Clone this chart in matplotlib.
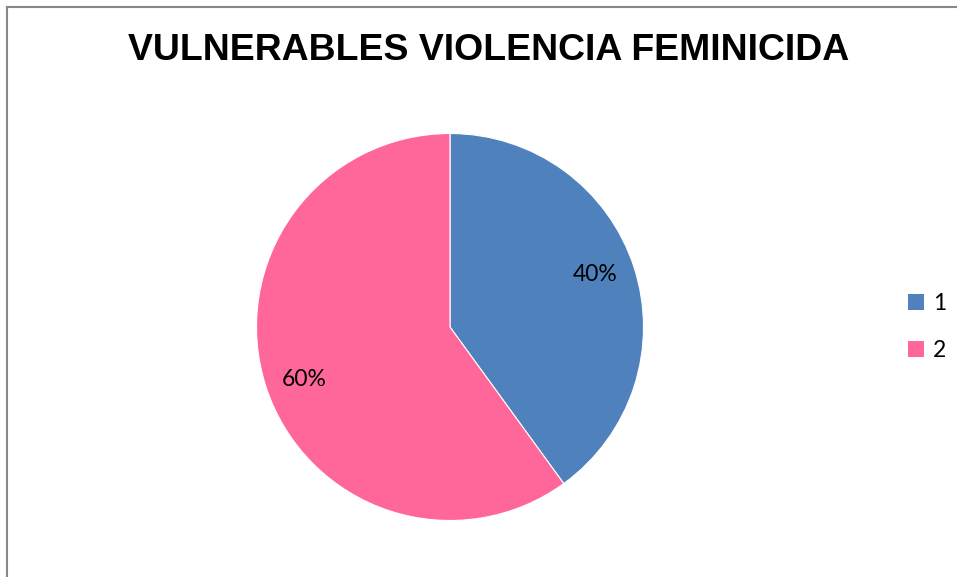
import matplotlib
matplotlib.use("Agg")
import matplotlib.pyplot as plt
from matplotlib.lines import Line2D
from matplotlib.patches import Patch

title = "VULNERABLES VIOLENCIA FEMINICIDA"
categories = ["1", "2"]
values = [40, 60]
colors = ["#4F81BD", "#FF6699"]

W, H = 957, 577
fig = plt.figure(figsize=(W / 100, H / 100), dpi=100)
fig.patch.set_facecolor("white")

cx, cy, r = 450, 327, 193.5
ax = fig.add_axes([(cx - r) / W, (H - cy - r) / H, 2 * r / W, 2 * r / H])
wedges, texts, autotexts = ax.pie(
    values, colors=colors, startangle=92, counterclock=False,
    autopct=lambda p: f"{p:.0f}%", pctdistance=0.8,
    wedgeprops=dict(edgecolor="white", linewidth=0.8),
    textprops=dict(fontsize=16.5, family="Lato", color="black"))
# keep the wedges at Excel's 12 o'clock start, labels slightly rotated as in the original
for w in wedges:
    w.set_theta1(w.theta1 - 2)
    w.set_theta2(w.theta2 - 2)
ax.set_xlim(-1, 1)
ax.set_ylim(-1, 1)
ax.set_aspect("equal")
ax.axis("off")

fig.text(489 / W, 1 - 50 / H, title, ha="center", va="center",
         fontsize=26.9, fontweight="bold", family="Liberation Sans")

handles = [Patch(facecolor=c, edgecolor="none") for c in colors]
fig.legend(handles, categories, loc="center left",
           bbox_to_anchor=(899 / W, 1 - 327 / H), frameon=False,
           prop=dict(family="Lato", size=16.5), handlelength=0.7,
           handleheight=0.7, handletextpad=0.4, labelspacing=1.15,
           borderaxespad=0)

# outer chart-area border (top and left visible)
fig.add_artist(Line2D([7.5 / W, 7.5 / W], [0, 1 - 6.5 / H], color="#888888", lw=1.5,
                      transform=fig.transFigure))
fig.add_artist(Line2D([7.5 / W, 1], [1 - 6.5 / H, 1 - 6.5 / H], color="#888888", lw=1.5,
                      transform=fig.transFigure))

fig.savefig("out.png", dpi=100, facecolor="white")
